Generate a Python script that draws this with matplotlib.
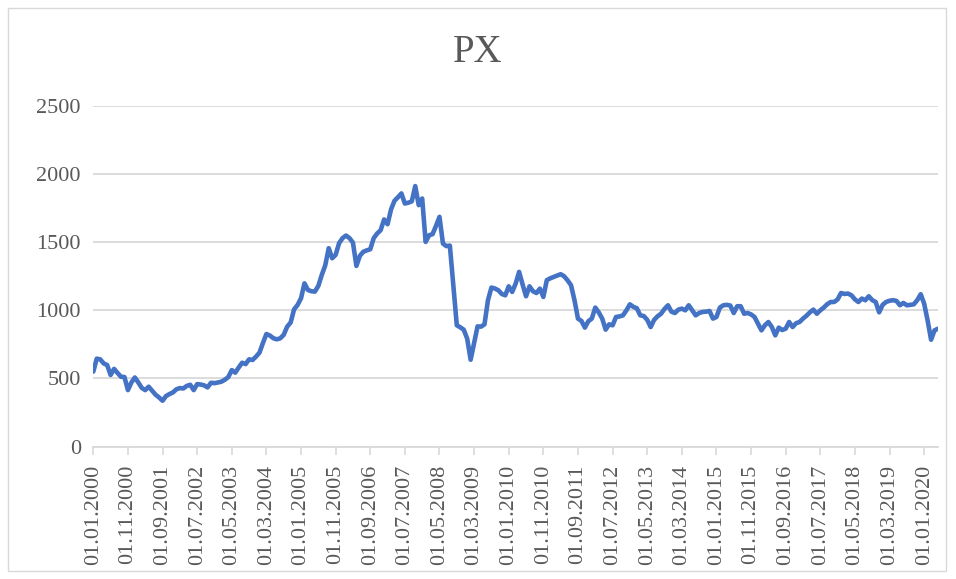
import matplotlib
matplotlib.use("Agg")
import matplotlib.pyplot as plt
from matplotlib.patches import Rectangle

# Monthly PX index values, Jan 2000 .. May 2020 (245 points)
px_values = [
    550, 645, 640, 610, 598, 525, 570, 540, 512, 510,
    414, 470, 507, 470, 430, 414, 439, 410, 380, 360,
    336, 370, 385, 397, 420, 429, 426, 445, 453, 414,
    458, 455, 449, 434, 468, 465, 470, 476, 490, 510,
    561, 542, 580, 615, 605, 640, 635, 660, 689, 760,
    826, 815, 795, 787, 794, 820, 880, 910, 1007, 1039,
    1088, 1198, 1149, 1140, 1137, 1179, 1260, 1330, 1456, 1382,
    1407, 1493, 1530, 1549, 1530, 1497, 1326, 1400, 1430, 1440,
    1448, 1530, 1564, 1588, 1667, 1632, 1740, 1804, 1830, 1858,
    1784, 1790, 1800, 1912, 1772, 1821, 1502, 1551, 1559, 1620,
    1686, 1490, 1471, 1475, 1180, 890, 875, 858, 792, 637,
    760, 882, 880, 897, 1074, 1167, 1160, 1147, 1120, 1110,
    1176, 1135, 1196, 1282, 1190, 1103, 1176, 1140, 1127, 1159,
    1098, 1221, 1235, 1245, 1255, 1265, 1250, 1220, 1184, 1074,
    939, 922, 873, 920, 939, 1020, 985, 939, 858, 897,
    890, 951, 955, 963, 1000, 1044, 1025, 1015, 963, 958,
    930, 877, 930, 956, 975, 1010, 1037, 990, 980, 1005,
    1012, 1000, 1037, 1000, 963, 980, 988, 990, 995, 939,
    951, 1020, 1037, 1040, 1035, 980, 1030, 1030, 975, 980,
    970, 951, 902, 853, 890, 914, 877, 816, 873, 855,
    865, 914, 877, 905, 914, 939, 960, 985, 1005, 975,
    1000, 1020, 1045, 1061, 1061, 1080, 1127, 1120, 1123, 1110,
    1080, 1061, 1086, 1074, 1103, 1075, 1061, 985, 1040, 1061,
    1070, 1074, 1069, 1037, 1054, 1037, 1040, 1044, 1074, 1118,
    1049, 926, 784, 853, 865,
]

tick_labels = [
    "01.01.2000", "01.11.2000", "01.09.2001", "01.07.2002", "01.05.2003",
    "01.03.2004", "01.01.2005", "01.11.2005", "01.09.2006", "01.07.2007",
    "01.05.2008", "01.03.2009", "01.01.2010", "01.11.2010", "01.09.2011",
    "01.07.2012", "01.05.2013", "01.03.2014", "01.01.2015", "01.11.2015",
    "01.09.2016", "01.07.2017", "01.05.2018", "01.03.2019", "01.01.2020",
]
y_ticks = [0, 500, 1000, 1500, 2000, 2500]
title = "PX"

plt.rcParams["font.family"] = ["Liberation Serif", "DejaVu Serif"]
text_color = "#595959"
grid_color = "#d9d9d9"
line_color = "#4472C4"

fig = plt.figure(figsize=(9.56, 5.79), dpi=100)
fig.patches.append(Rectangle((8 / 956, 8 / 579), 938 / 956, 563 / 579,
                             transform=fig.transFigure, fill=False,
                             edgecolor=grid_color, linewidth=1.0))

ax = fig.add_axes([93.3 / 956, 1 - 446.5 / 579, (938 - 93.3) / 956, (446.5 - 106) / 579])

x = list(range(len(px_values)))
ax.plot(x, px_values, color=line_color, linewidth=3.3, solid_joinstyle="round",
        solid_capstyle="round", zorder=3)

ax.set_xlim(0, len(px_values) - 1)
ax.set_ylim(0, 2500)
ax.set_yticks(y_ticks)
ax.set_yticklabels([str(v) for v in y_ticks], fontsize=16, color=text_color)
ax.yaxis.grid(True, color=grid_color, linewidth=1.3)
ax.set_axisbelow(True)
ax.tick_params(axis="y", length=0, pad=9)

tick_pos = [i * 10 for i in range(len(tick_labels))]
ax.set_xticks(tick_pos)
ax.set_xticklabels(tick_labels, rotation=90, fontsize=16, color=text_color)
ax.tick_params(axis="x", length=6, width=1.2, color=grid_color, pad=7, direction="out")

for s in ["top", "right", "left"]:
    ax.spines[s].set_visible(False)
ax.spines["bottom"].set_color(grid_color)
ax.spines["bottom"].set_linewidth(1.3)

fig.text(0.5, 1 - 52 / 579, title, ha="center", va="center", fontsize=28, color=text_color)

fig.savefig("out.png", dpi=100)
